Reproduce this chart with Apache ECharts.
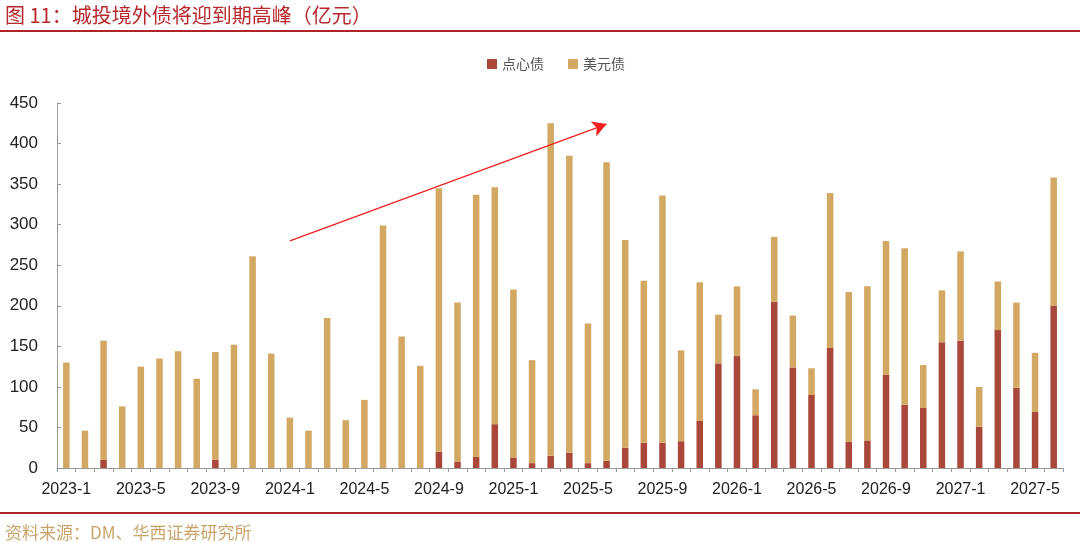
<!DOCTYPE html>
<html>
<head>
<meta charset="utf-8">
<script src="https://cdn.jsdelivr.net/npm/echarts@6/dist/echarts.min.js"></script>
<style>
  html, body { margin: 0; padding: 0; background: #fff; }
  #chart { width: 1080px; height: 542px; }
</style>
</head>
<body>
<div id="chart"></div>
<script>
// 月份 2023-1 ~ 2027-6
const months = [];
for (let y = 2023; y <= 2027; y++) {
  for (let m = 1; m <= 12; m++) {
    if (y === 2027 && m > 6) break;
    months.push(y + '-' + m);
  }
}

// 点心债（亿元）
const dimSum = [
  0, 0, 10, 0, 0, 0, 0, 0, 10, 0, 0, 0,
  0, 0, 0, 0, 0, 0, 0, 0, 20, 8, 14, 54,
  13, 6, 15, 19, 6, 9, 25, 31, 31, 33, 58, 129,
  138, 65, 205, 124, 90, 148, 32, 34, 115, 78, 74, 155,
  157, 51, 170, 99, 69, 200
];

// 美元债（亿元）
const usdBond = [
  130, 46, 147, 76, 125, 135, 144, 110, 133, 152, 261, 141,
  62, 46, 185, 59, 84, 299, 162, 126, 325, 196, 323, 292,
  207, 127, 410, 366, 172, 368, 256, 200, 305, 112, 171, 60,
  86, 32, 80, 64, 33, 191, 185, 190, 165, 193, 53, 64,
  110, 49, 60, 105, 73, 158
];

// 趋势箭头 起点/终点（类目, 数值）
const arrowFrom = ['2024-1', 280];
const arrowTo = ['2025-6', 424];

const chart = echarts.init(document.getElementById('chart'));

const option = {
  backgroundColor: '#fff',
  animation: false,
  title: [
    {
      text: '图 11：城投境外债将迎到期高峰（亿元）',
      left: 0,
      top: 0,
      textStyle: { fontFamily: 'Noto Sans CJK SC', fontSize: 20, fontWeight: 'normal', color: '#b8282c' }
    },
    {
      text: '资料来源：DM、华西证券研究所',
      left: 0,
      top: 519,
      textStyle: { fontFamily: 'Noto Sans CJK SC', fontSize: 17, fontWeight: 'normal', color: '#c9a46a' }
    }
  ],
  graphic: [
    { type: 'rect', shape: { x: 0, y: 30, width: 1080, height: 2 }, style: { fill: '#b0232a' } },
    { type: 'rect', shape: { x: 0, y: 512, width: 1080, height: 2 }, style: { fill: '#b0232a' } }
  ],
  legend: {
    top: 52,
    left: 482,
    itemWidth: 10,
    itemHeight: 10,
    itemGap: 24,
    icon: 'rect',
    textStyle: { fontFamily: 'Noto Sans CJK SC', fontSize: 14, color: '#555' },
    data: ['点心债', '美元债']
  },
  grid: { left: 57, right: 17, top: 103, bottom: 74 },
  xAxis: {
    type: 'category',
    data: months,
    axisLine: { lineStyle: { color: '#999' } },
    axisTick: { show: true, interval: 0, length: 4, lineStyle: { color: '#999' } },
    axisLabel: {
      interval: 3,
      fontFamily: 'Liberation Sans',
      fontSize: 16,
      color: '#222',
      margin: 14
    }
  },
  yAxis: {
    type: 'value',
    min: 0,
    max: 450,
    interval: 50,
    axisLine: { show: true, lineStyle: { color: '#999' } },
    axisTick: { show: true, inside: true, length: 4, lineStyle: { color: '#999' } },
    splitLine: { show: false },
    axisLabel: { fontFamily: 'Liberation Sans', fontSize: 17, color: '#222', margin: 19 }
  },
  series: [
    {
      name: '点心债',
      type: 'bar',
      stack: 'total',
      barWidth: '35%',
      data: dimSum,
      itemStyle: { color: '#a8473a' },
      markLine: {
        silent: true,
        symbol: ['none', 'arrow'],
        symbolSize: [12, 14],
        label: { show: false },
        lineStyle: { color: '#f01e1e', width: 1.2, type: 'solid' },
        data: [[
          { coord: arrowFrom },
          { coord: arrowTo }
        ]]
      }
    },
    {
      name: '美元债',
      type: 'bar',
      stack: 'total',
      barWidth: '35%',
      data: usdBond,
      itemStyle: { color: '#d3a863' }
    }
  ]
};

chart.setOption(option);
</script>
</body>
</html>
